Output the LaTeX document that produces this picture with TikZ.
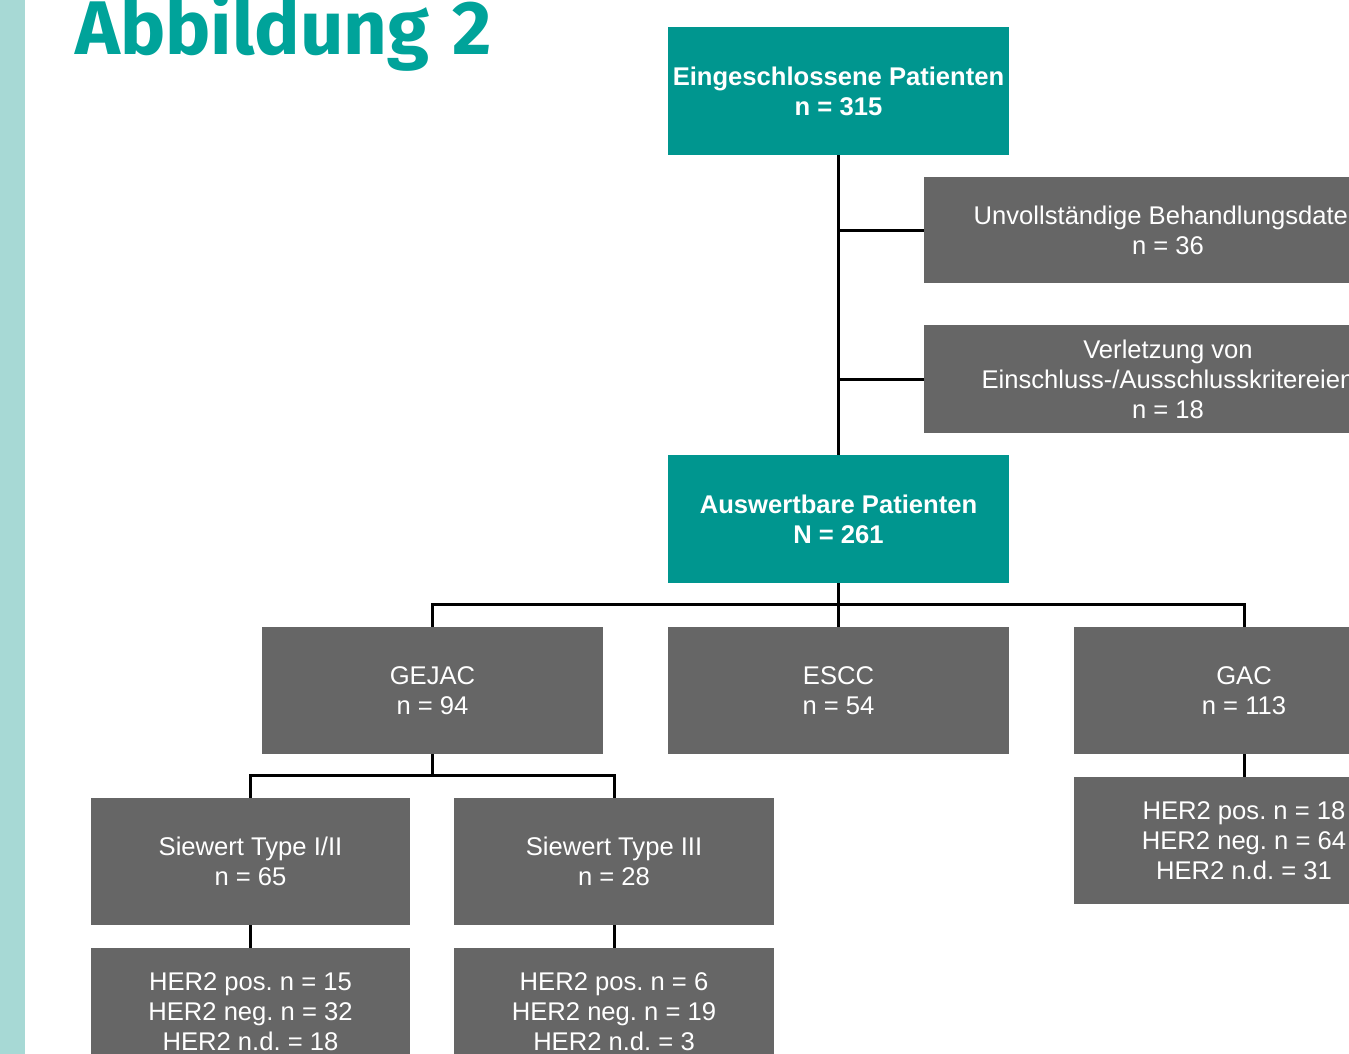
\documentclass[tikz,border=0pt]{standalone}
\usepackage{fontspec}
\setmainfont{Liberation Sans}
\newfontfamily\titlefont{Fira Sans}
\definecolor{stripc}{HTML}{A7D9D5}
\definecolor{titlec}{HTML}{00A39A}
\definecolor{tealbox}{HTML}{00968F}
\definecolor{graybox}{HTML}{666666}
\frenchspacing
\begin{document}
\begin{tikzpicture}[x=1pt,y=-1pt,
  box/.style={rectangle, inner sep=0pt, align=center, text=white,
    font=\fontsize{25.6}{30}\selectfont\frenchspacing},
  tealnode/.style={box, fill=tealbox, font=\fontsize{25.6}{30}\selectfont\bfseries\frenchspacing},
  graynode/.style={box, fill=graybox},
  conn/.style={draw=black, line width=3pt}]
\useasboundingbox (0,0) rectangle (1349,1054);
\clip (0,0) rectangle (1349,1054);
\fill[white] (0,0) rectangle (1349,1054);
\fill[stripc] (0,0) rectangle (25,1054);
\node[anchor=base west, inner sep=0pt, text=titlec, font=\titlefont\bfseries\fontsize{76}{80}\selectfont] (title) at (75,55) {Abbildung\hspace{5pt} 2};

\node[tealnode, minimum width=341pt, minimum height=128pt] (top) at (838.5,91) {Eingeschlossene Patienten\\n = 315};
\node[graynode, minimum width=488pt, minimum height=106pt] (unv) at (1168,230) {Unvollständige Behandlungsdaten\\n = 36};
\node[graynode, minimum width=488pt, minimum height=108pt] (verl) at (1168,379) {Verletzung von\\Einschluss-/Ausschlusskritereien\\n = 18};
\node[tealnode, minimum width=341pt, minimum height=128pt] (ausw) at (838.5,519) {Auswertbare Patienten\\N = 261};

\node[graynode, minimum width=341pt, minimum height=127pt] (gejac) at (432.5,690.5) {GEJAC\\n = 94};
\node[graynode, minimum width=341pt, minimum height=127pt] (escc) at (838.5,690.5) {ESCC\\n = 54};
\node[graynode, minimum width=340pt, minimum height=127pt] (gac) at (1244,690.5) {GAC\\n = 113};
\node[graynode, minimum width=340pt, minimum height=127pt] (gacher) at (1244,840.5) {HER2 pos. n = 18\\HER2 neg. n = 64\\HER2 n.d. = 31};

\node[graynode, minimum width=319pt, minimum height=127pt] (s12) at (250.5,861.5) {Siewert Type I/II\\n = 65};
\node[graynode, minimum width=320pt, minimum height=127pt] (s3) at (614,861.5) {Siewert Type III\\n = 28};
\node[graynode, minimum width=319pt, minimum height=128pt] (h12) at (250.5,1012) {HER2 pos. n = 15\\HER2 neg. n = 32\\HER2 n.d. = 18};
\node[graynode, minimum width=320pt, minimum height=128pt] (h3) at (614,1012) {HER2 pos. n = 6\\HER2 neg. n = 19\\HER2 n.d. = 3};

\coordinate (bar) at (838.5,604);
\coordinate (bar2) at (432.5,775);

\draw[conn] (top.south) -- (ausw.north);
\draw[conn] (top.south |- unv.west) -- (unv.west);
\draw[conn] (top.south |- verl.west) -- (verl.west);
\draw[conn] (ausw.south) -- (escc.north);
\draw[conn] (gejac.north) |- (bar) -| (gac.north);
\draw[conn] (gejac.south) -- (bar2);
\draw[conn] (s12.north) |- (bar2) -| (s3.north);
\draw[conn] (s12.south) -- (h12.north);
\draw[conn] (s3.south) -- (h3.north);
\draw[conn] (gac.south) -- (gacher.north);
\end{tikzpicture}
\end{document}
